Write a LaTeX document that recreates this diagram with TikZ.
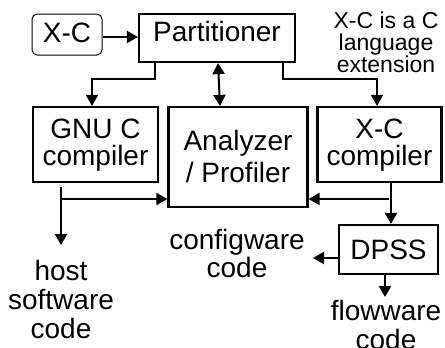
\documentclass[tikz,border=0pt]{standalone}
\usepackage{fontspec}
\setmainfont{Liberation Sans}
\usetikzlibrary{arrows.meta}
% centred stack of lines: size, baseline skip, lines
\newcommand\stk[3]{\fontsize{#1pt}{#2pt}\selectfont\begin{tabular}[t]{@{}c@{}}#3\end{tabular}}
\begin{document}
\begin{tikzpicture}[x=1pt,y=-1pt,
  box/.style={draw, line width=2.2pt, inner sep=0pt, font=\fontsize{28pt}{30pt}\selectfont},
  arr/.style={line width=2pt, -{Triangle[length=11pt,width=12pt]}},
  dbl/.style={line width=2pt, {Triangle[length=11pt,width=12pt]}-{Triangle[length=11pt,width=12pt]}},
  lbl/.style={inner sep=0pt, anchor=base}]
\useasboundingbox (0,0) rectangle (445,348);
\clip (0,0) rectangle (445,348);
\fill[white] (0,0) rectangle (445,348);

% boxes
\node[box, rounded corners=5pt, line width=1pt, minimum width=70pt, minimum height=41pt,
      text height=20pt, text depth=5pt] (xc) at (67,34.5) {X-C};
\node[box, minimum width=156pt, minimum height=48pt, text height=20pt, text depth=12.6pt]
      (part) at (217,38) {Partitioner};
\node[box, minimum width=125pt, minimum height=75pt, text height=10pt, text depth=23pt]
      (gnu) at (95.5,144.5) {\stk{28}{25}{GNU C\\compiler}};
\node[box, minimum width=139pt, minimum height=100pt, text height=10pt, text depth=24pt]
      (ana) at (238,157) {\stk{28}{32}{Analyzer\\/ Profiler}};
\node[box, minimum width=124pt, minimum height=75pt, text height=10pt, text depth=23pt]
      (xcc) at (379.5,144.5) {\stk{28}{25}{X-C\\compiler}};
\node[box, minimum width=99pt, minimum height=49pt, text height=20pt, text depth=1pt]
      (dpss) at (388.5,249.5) {DPSS};

% free labels
\node[lbl] (note) at (386,28) {\stk{23}{19}{X-C is a C\\language\\extension}};
\node[lbl] (cfg) at (237,249) {\stk{28}{27}{configware\\code}};
\node[lbl] (host) at (61,280) {\stk{28}{29}{host\\software\\code}};
\node[lbl] (flow) at (386,320) {\stk{28}{29}{flowware\\code}};

% connectors
\draw[arr] ([yshift=-2.5pt]xc.east) coordinate (xa) -- (xa -| part.west);
\draw[dbl] ([xshift=1pt]part.south) -- ([xshift=-18pt]ana.north);
\draw[arr] ([xshift=-62pt]part.south) -- ++(0,16) -| ([xshift=-3.5pt]gnu.north);
\draw[arr] ([xshift=66pt]part.south) -- ++(0,16) -| ([xshift=-2.5pt]xcc.north);

\coordinate (hostend) at (61,245);
\draw[arr] ([xshift=-34.5pt,yshift=-4pt]gnu.south) -- (hostend);
\coordinate (gj) at (61,199);
\draw[arr] (gj) -- (gj -| ana.west);

\draw[arr] ([xshift=11.5pt]xcc.south) coordinate (xo) -- (xo |- dpss.north);
\coordinate (xj) at (389,199);
\draw[arr] (xj) -- (xj -| ana.east);

\coordinate (cfgend) at (313,258);
\draw[arr] ([yshift=-8.5pt]dpss.west) -- (cfgend);
\coordinate (flowend) at (385,297);
\draw[arr] ([xshift=-3.5pt]dpss.south) -- (flowend);
\end{tikzpicture}
\end{document}
